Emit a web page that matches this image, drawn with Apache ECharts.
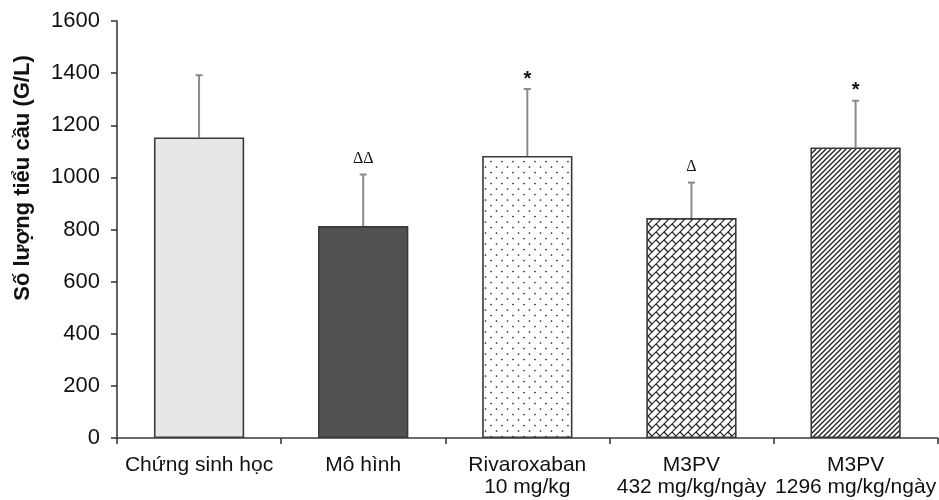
<!DOCTYPE html>
<html><head><meta charset="utf-8">
<script src="https://cdn.jsdelivr.net/npm/echarts@6/dist/echarts.min.js"></script>
<style>html,body{margin:0;padding:0;background:#fff}#c{width:939px;height:500px}</style>
</head><body><div id="c"></div>
<script>
// ---- data ----
const categories = ['Chứng sinh học', 'Mô hình', 'Rivaroxaban\n10 mg/kg', 'M3PV\n432 mg/kg/ngày', 'M3PV\n1296 mg/kg/ngày'];
const means = [1153, 813, 1082, 844, 1115];
const errUpper = [239, 198, 257, 136, 179];
const marks = ['', 'ΔΔ', '*', 'Δ', '*'];
const yMin = 0, yMax = 1600, yStep = 200;
const yTitle = 'Số lượng tiểu cầu (G/L)';

// ---- patterns ----
function tile(size, draw) {
  const c = document.createElement('canvas');
  c.width = size; c.height = size;
  const g = c.getContext('2d');
  g.fillStyle = '#fff'; g.fillRect(0, 0, size, size);
  draw(g, size);
  return { image: c, repeat: 'repeat' };
}
const dotPattern = tile(11, (g) => {
  g.fillStyle = '#222';
  [[1.5, 2], [7, 7.5]].forEach(([x, y]) => { g.beginPath(); g.arc(x, y, 0.85, 0, Math.PI * 2); g.fill(); });
});
const hatchPattern = tile(5, (g, T) => {
  g.strokeStyle = '#222'; g.lineWidth = 1.3;
  for (let c = -T; c <= 3 * T; c += T) { g.beginPath(); g.moveTo(c + T, -T); g.lineTo(c - 2 * T, 2 * T); g.stroke(); }
});
const brickPattern = tile(16, (g, T) => {
  const h = T / 2;
  g.strokeStyle = '#222'; g.lineWidth = 1.2;
  for (let c = -2 * T; c <= 4 * T; c += h) { g.beginPath(); g.moveTo(c + 2 * T, -2 * T); g.lineTo(c - 2 * T, 2 * T); g.stroke(); }
  for (let s = -6; s <= 8; s++) {
    const c0 = s * h;
    const off = ((s % 2) + 2) % 2 ? h : 0;
    for (let k = -3 * T + off; k <= 4 * T; k += T) {
      g.beginPath();
      g.moveTo((c0 + k) / 2, (c0 - k) / 2);
      g.lineTo((c0 + h + k) / 2, (c0 + h - k) / 2);
      g.stroke();
    }
  }
});
const fills = ['#e6e7e9', '#525252', dotPattern, brickPattern, hatchPattern];

const chart = echarts.init(document.getElementById('c'));
const axisColor = '#3a3a3a';
const font = '"Liberation Sans", Arial, sans-serif';
chart.setOption({
  animation: false,
  grid: { left: 117, right: 0, top: 21, bottom: 62, containLabel: false },
  xAxis: {
    type: 'category', data: categories,
    axisLine: { lineStyle: { color: axisColor, width: 1.6 } },
    axisTick: { show: true, length: 6, lineStyle: { color: axisColor, width: 1.6 } },
    axisLabel: { interval: 0, fontSize: 21, lineHeight: 22, color: '#111', margin: 16, fontFamily: font }
  },
  yAxis: {
    type: 'value', min: yMin, max: yMax, interval: yStep,
    axisLine: { show: true, lineStyle: { color: axisColor, width: 1.6 } },
    axisTick: { show: true, length: 6, lineStyle: { color: axisColor, width: 1.6 } },
    splitLine: { show: false },
    axisLabel: { fontSize: 22, color: '#111', margin: 17, fontFamily: font, formatter: (v) => String(v) }
  },
  graphic: [{
    type: 'text', x: 23, y: 178, rotation: Math.PI / 2,
    style: { text: yTitle, font: 'bold 22px ' + font, fill: '#111', align: 'center', verticalAlign: 'middle' }
  }],
  series: [{
    type: 'bar', barWidth: '55%',
    data: means.map((v, i) => ({ value: v, itemStyle: { color: fills[i] } })),
    itemStyle: { borderColor: '#3a3a3a', borderWidth: 1.6 }
  }, {
    type: 'custom',
    data: means.map((v, i) => [i, v, v + errUpper[i]]),
    renderItem: function (params, api) {
      const p0 = api.coord([api.value(0), api.value(1)]);
      const p1 = api.coord([api.value(0), api.value(2)]);
      const mark = marks[params.dataIndex];
      const star = mark === '*';
      return {
        type: 'group', children: [
          { type: 'line', shape: { x1: p0[0], y1: p0[1], x2: p1[0], y2: p1[1] }, style: { stroke: '#8a8a8a', lineWidth: 2 } },
          { type: 'line', shape: { x1: p1[0] - 3.5, y1: p1[1], x2: p1[0] + 3.5, y2: p1[1] }, style: { stroke: '#8a8a8a', lineWidth: 2 } },
          { type: 'text', x: p1[0], y: p1[1] - (star ? 10 : 16),
            style: { text: mark, align: 'center', verticalAlign: 'middle', fill: '#111',
              font: star ? 'bold 20px ' + font : '16px "Liberation Serif", "DejaVu Serif", serif' } }
        ]
      };
    }
  }]
});
</script>
</body></html>
